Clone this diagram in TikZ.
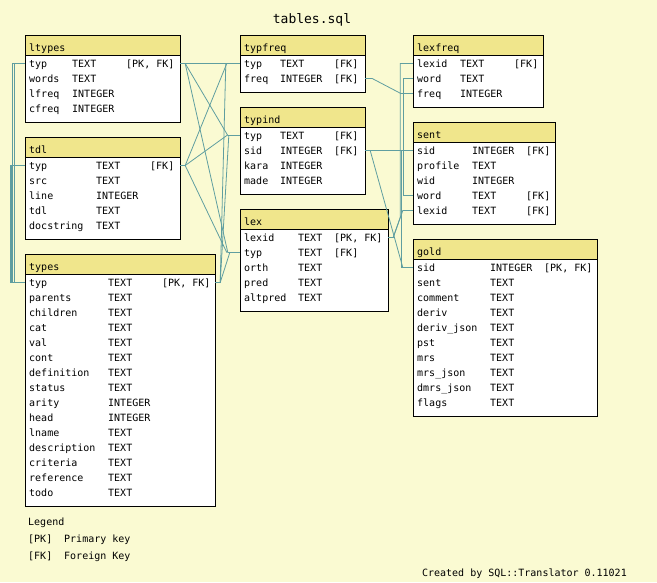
\documentclass[tikz,border=0pt]{standalone}
\usepackage{fontspec}
\setmainfont{DejaVu Sans Mono}
\usepackage{tikz}
\usepackage{xcolor}
\definecolor{sqlbg}{RGB}{250,250,210}
\definecolor{sqlhead}{RGB}{240,230,140}
\definecolor{sqlline}{RGB}{95,158,160}
\tikzstyle{fkline} = [line width=0.8pt, color=sqlline]
\tikzstyle{tblbody} = [rectangle, draw=black, fill=white, line width=1pt, inner sep=0pt]
\tikzstyle{tblhead} = [rectangle, draw=black, fill=sqlhead, line width=1pt, minimum height=20pt, inner sep=0pt]
\tikzstyle{fldrow} = [rectangle, minimum height=15pt, inner sep=0pt]
\tikzstyle{tbltext} = [anchor=base west, inner sep=0pt, font=\fontsize{10}{12}\selectfont]
\tikzstyle{titletext} = [anchor=base, inner sep=0pt, font=\fontsize{13}{15}\selectfont]

% #1 name, #2 x, #3 y, #4 width, #5 rows, #6 type column, #7 key column, #8 fields
\newcommand{\sqltable}[8]{%
  \node[tblbody, minimum width=#4pt, minimum height={15pt*#5+27pt}, anchor=north west] (#1) at (#2,#3) {};
  \node[tblhead, minimum width=#4pt, anchor=north west] (#1-head) at (#2,#3) {};
  \node[tbltext] (#1-title) at (#2+4,#3+16) {#1};
  \foreach \fname/\ftype/\fkey [count=\i from 0] in {#8} {
    \node[fldrow, minimum width=#4pt] (#1-\fname) at (#2+#4/2,#3+28.5+15*\i) {};
    \node[tbltext] (#1-\fname-n) at (#2+4,#3+32+15*\i) {\detokenize\expandafter{\fname}};
    \node[tbltext] (#1-\fname-t) at (#2+#6,#3+32+15*\i) {\ftype};
    \node[tbltext] (#1-\fname-k) at (#2+#7,#3+32+15*\i) {\fkey};
  }%
}

\begin{document}
\begin{tikzpicture}[x=1pt, y=-1pt]
\fill[sqlbg] (0,0) rectangle (657,582);
\node[titletext] (title) at (312,23) {tables.sql};

\sqltable{ltypes}{25}{35}{155}{4}{47}{101}{typ/TEXT/{[PK, FK]}, words/TEXT/{}, lfreq/INTEGER/{}, cfreq/INTEGER/{}}
\sqltable{tdl}{25}{137}{155}{5}{71}{125}{typ/TEXT/{[FK]}, src/TEXT/{}, line/INTEGER/{}, tdl/TEXT/{}, docstring/TEXT/{}}
\sqltable{types}{25}{254}{190}{15}{83}{137}{typ/TEXT/{[PK, FK]}, parents/TEXT/{}, children/TEXT/{}, cat/TEXT/{},
  val/TEXT/{}, cont/TEXT/{}, definition/TEXT/{}, status/TEXT/{}, arity/INTEGER/{}, head/INTEGER/{},
  lname/TEXT/{}, description/TEXT/{}, criteria/TEXT/{}, reference/TEXT/{}, todo/TEXT/{}}
\sqltable{typfreq}{240}{35}{125}{2}{40}{94}{typ/TEXT/{[FK]}, freq/INTEGER/{[FK]}}
\sqltable{typind}{240}{107}{125}{4}{40}{94}{typ/TEXT/{[FK]}, sid/INTEGER/{[FK]}, kara/INTEGER/{}, made/INTEGER/{}}
\sqltable{lex}{240}{209}{148}{5}{58}{94}{lexid/TEXT/{[PK, FK]}, typ/TEXT/{[FK]}, orth/TEXT/{}, pred/TEXT/{}, altpred/TEXT/{}}
\sqltable{lexfreq}{413}{35}{130}{3}{47}{101}{lexid/TEXT/{[FK]}, word/TEXT/{}, freq/INTEGER/{}}
\sqltable{sent}{413}{122}{142}{5}{59}{113}{sid/INTEGER/{[FK]}, profile/TEXT/{}, wid/INTEGER/{}, word/TEXT/{[FK]}, lexid/TEXT/{[FK]}}
\sqltable{gold}{413}{239}{184}{10}{77}{131}{sid/INTEGER/{[PK, FK]}, sent/TEXT/{}, comment/TEXT/{}, deriv/TEXT/{},
  deriv_json/TEXT/{}, pst/TEXT/{}, mrs/TEXT/{}, mrs_json/TEXT/{}, dmrs_json/TEXT/{}, flags/TEXT/{}}

\draw[fkline] (ltypes-typ.west) -- ++(-10,0) |- (types-typ.west);
\draw[fkline] (ltypes-typ.west) -- ++(-12,0) |- (types-typ.west);
\draw[fkline] (tdl-typ.west) -- ++(-13,0) |- (types-typ.west);
\draw[fkline] (tdl-typ.west) -- ++(-14,0) |- (types-typ.west);

\draw[fkline] (ltypes-typ.east) -- ++(5,0) -- ([xshift=-12pt]typfreq-typ.west) -- (typfreq-typ.west);
\draw[fkline] (ltypes-typ.east) -- ++(5,0) -- ([xshift=-12pt]typind-typ.west) -- (typind-typ.west);
\draw[fkline] (ltypes-typ.east) -- ++(5,0) -- ([xshift=-12pt]lex-typ.west) -- (lex-typ.west);
\draw[fkline] (tdl-typ.east) -- ++(5,0) -- ([xshift=-13pt]typfreq-typ.west);
\draw[fkline] (tdl-typ.east) -- ++(5,0) -- ([xshift=-13pt]typind-typ.west);
\draw[fkline] (tdl-typ.east) -- ++(5,0) -- ([xshift=-13pt]lex-typ.west);
\draw[fkline] (types-typ.east) -- ++(5,0) -- ([xshift=-14pt]typfreq-typ.west);
\draw[fkline] (types-typ.east) -- ++(5,0) -- ([xshift=-11pt]typind-typ.west);
\draw[fkline] (types-typ.east) -- ++(5,0) -- ([xshift=-10pt]lex-typ.west) -- (lex-typ.west);

\draw[fkline] (typfreq-freq.east) -- ++(7,0) -- ([xshift=-12pt]lexfreq-freq.west) -- (lexfreq-freq.west);
\draw[fkline] (typind-sid.east) -- (sent-sid.west);
\draw[fkline] (typind-sid.east) -- ++(5,0) -- ([xshift=-10pt]gold-sid.west) -- (gold-sid.west);
\draw[fkline] (lex-lexid.east) -- ++(5,0) -- ++(7,-20) |- (lexfreq-lexid.west);
\draw[fkline] (lex-lexid.east) -- ++(5,0) -- ([xshift=-10pt]sent-lexid.west) -- (sent-lexid.west);
\draw[fkline] (lexfreq-word.west) -- ++(-9,0) |- (sent-word.west);
\draw[fkline] (sent-sid.west) -- ++(-11,0) |- (gold-sid.west);

\node[tbltext] (legend) at (28,525) {Legend};
\node[tbltext] (legend-pk) at (28,542) {[PK]};
\node[tbltext] (legend-pk-text) at (64,542) {Primary key};
\node[tbltext] (legend-fk) at (28,559) {[FK]};
\node[tbltext] (legend-fk-text) at (64,559) {Foreign Key};
\node[tbltext, anchor=base east] (credit) at (627,576) {Created by SQL::Translator 0.11021};
\end{tikzpicture}
\end{document}
